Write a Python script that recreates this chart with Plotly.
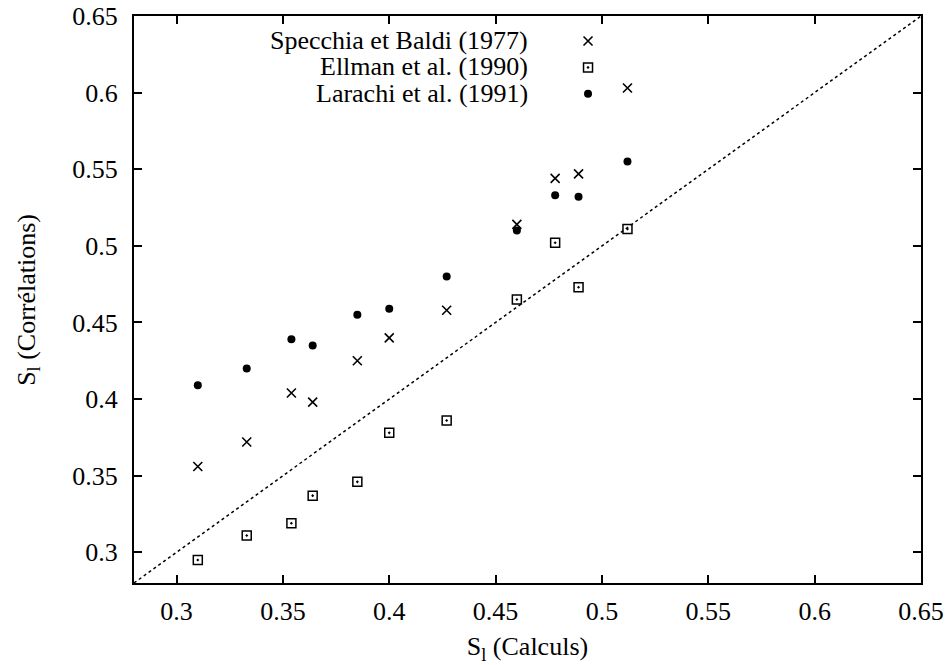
import plotly.graph_objects as go

x_calc = [0.31, 0.333, 0.354, 0.364, 0.385, 0.4, 0.427, 0.46, 0.478, 0.489, 0.512]
specchia = [0.356, 0.372, 0.404, 0.398, 0.425, 0.440, 0.458, 0.514, 0.544, 0.547, 0.603]
ellman = [0.295, 0.311, 0.319, 0.337, 0.346, 0.378, 0.386, 0.465, 0.502, 0.473, 0.511]
larachi = [0.409, 0.420, 0.439, 0.435, 0.455, 0.459, 0.480, 0.510, 0.533, 0.532, 0.555]
diag = [0.28, 0.65]
names = ["Specchia et Baldi (1977)", "Ellman et al. (1990)", "Larachi et al. (1991)"]
tickvals = [0.3, 0.35, 0.4, 0.45, 0.5, 0.55, 0.6, 0.65]
ticktext = ["0.3", "0.35", "0.4", "0.45", "0.5", "0.55", "0.6", "0.65"]

FONT = "Liberation Serif"
FS = 26

fig = go.Figure()
fig.add_trace(go.Scatter(x=diag, y=diag, mode="lines",
                         line=dict(color="black", width=1.5, dash="dot"),
                         showlegend=False, hoverinfo="skip"))
fig.add_trace(go.Scatter(x=x_calc, y=specchia, mode="markers", name=" ",
                         marker=dict(symbol="x-thin-open", size=9, color="black",
                                     line=dict(color="black", width=1.6))))
fig.add_trace(go.Scatter(x=x_calc, y=ellman, mode="markers", name=" ",
                         marker=dict(symbol="square-open-dot", size=9, color="black",
                                     line=dict(color="black", width=1.5))))
fig.add_trace(go.Scatter(x=x_calc, y=larachi, mode="markers", name=" ",
                         marker=dict(symbol="circle", size=8, color="black")))

axis_common = dict(
    showline=True, linecolor="black", linewidth=2, mirror="ticks",
    ticks="inside", ticklen=8, tickwidth=1.5, tickcolor="black",
    showgrid=False, zeroline=False, automargin=False,
    tickfont=dict(family=FONT, size=FS, color="black"),
    range=[0.28, 0.65], tickvals=tickvals, ticktext=ticktext,
)
fig.update_xaxes(**axis_common, ticklabelstandoff=4,
                 title=dict(text="S<sub>l</sub> (Calculs)", font=dict(family=FONT, size=FS, color="black"),
                            standoff=12))
fig.update_yaxes(**axis_common, ticklabelstandoff=9)

# y-axis title as rotated annotation
fig.add_annotation(xref="paper", yref="paper", x=-0.1355, y=0.5,
                   text="S<sub>l</sub> (Corrélations)", textangle=-90,
                   showarrow=False, xanchor="center", yanchor="middle",
                   font=dict(family=FONT, size=FS, color="black"))

# legend text (right aligned, symbol to the right as in reference)
ys = [0.9575, 0.9105, 0.8635]
for n, yy in zip(names, ys):
    fig.add_annotation(xref="paper", yref="paper", x=0.503, y=yy, text=n,
                       showarrow=False, xanchor="right", yanchor="middle",
                       font=dict(family=FONT, size=FS, color="black"))

fig.update_layout(
    width=948, height=665,
    margin=dict(l=134, r=27, t=16, b=82),
    paper_bgcolor="white", plot_bgcolor="white",
    font=dict(family=FONT, color="black"),
    legend=dict(x=0.5515, y=0.988, xanchor="left", yanchor="top",
                bgcolor="rgba(0,0,0,0)", font=dict(family=FONT, size=18),
                itemwidth=30, tracegroupgap=0),
)
fig.write_html("out.html", config={"displayModeBar": False},
               post_script="document.body.style.margin='0px';")
